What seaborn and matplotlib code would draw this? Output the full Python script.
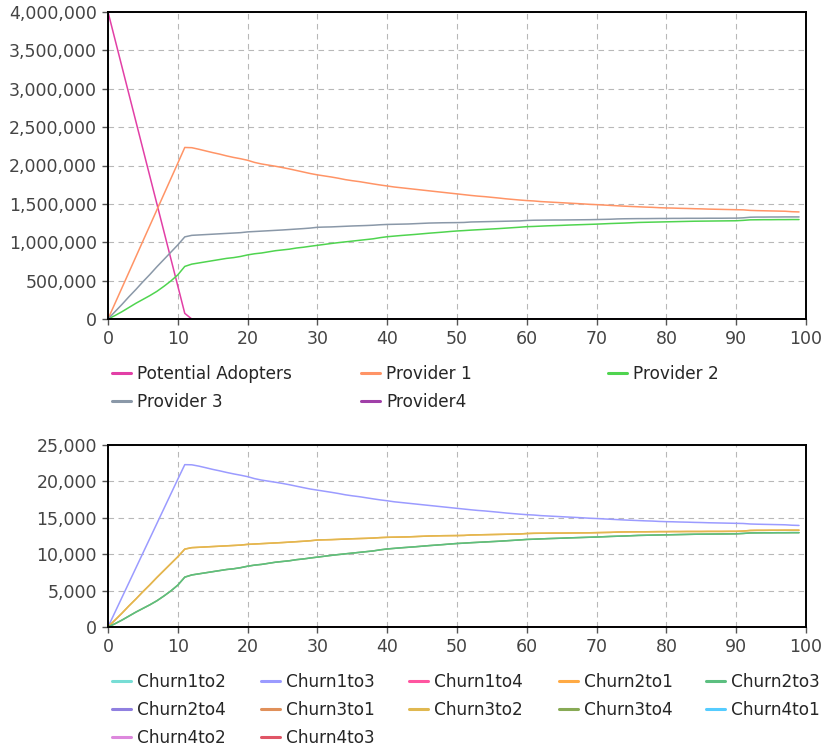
import numpy as np
import pandas as pd
import matplotlib
matplotlib.use("Agg")
import matplotlib.pyplot as plt
import seaborn as sns
from matplotlib.lines import Line2D
from matplotlib.ticker import FuncFormatter, MultipleLocator

sns.set_theme(style="white")
plt.rcParams["font.family"] = ["DejaVu Sans"]

time = list(range(100))
nan = float("nan")

# ---------------- top panel data ----------------
potential_adopters = [4000000, 3643000, 3286000, 2929000, 2572000, 2215000, 1858000, 1501000, 1144000, 787000,
                      430000, 73000, 0] + [nan] * 87

provider1 = [0, 203000, 406000, 609000, 812000, 1015000, 1218000, 1421000, 1624000, 1827000,
             2030000, 2235000, 2232000, 2212000, 2190000, 2168000, 2148000, 2125000, 2105000, 2088000,
             2068000, 2040000, 2020000, 2005000, 1990000, 1973000, 1955000, 1935000, 1915000, 1895000,
             1878000, 1864000, 1850000, 1834000, 1816000, 1802000, 1790000, 1775000, 1760000, 1746000,
             1733000, 1720000, 1710000, 1700000, 1690000, 1680000, 1670000, 1660000, 1650000, 1640000,
             1630000, 1620000, 1610000, 1601000, 1594000, 1585000, 1576000, 1566000, 1558000, 1550000,
             1543000, 1538000, 1530000, 1525000, 1520000, 1515000, 1510000, 1505000, 1500000, 1494000,
             1490000, 1485000, 1480000, 1475000, 1470000, 1466000, 1462000, 1458000, 1455000, 1450000,
             1447000, 1445000, 1442000, 1440000, 1437000, 1435000, 1432000, 1430000, 1428000, 1426000,
             1424000, 1422000, 1415000, 1412000, 1410000, 1408000, 1406000, 1404000, 1398000, 1395000]

provider2 = [0, 45000, 95000, 150000, 205000, 255000, 305000, 360000, 425000, 495000,
             575000, 685000, 715000, 730000, 745000, 760000, 775000, 790000, 800000, 815000,
             835000, 850000, 860000, 875000, 890000, 900000, 910000, 925000, 935000, 948000,
             960000, 972000, 984000, 995000, 1005000, 1015000, 1025000, 1035000, 1045000, 1060000,
             1072000, 1080000, 1088000, 1095000, 1102000, 1110000, 1118000, 1125000, 1132000, 1140000,
             1147000, 1152000, 1158000, 1163000, 1168000, 1173000, 1178000, 1184000, 1190000, 1196000,
             1203000, 1206000, 1210000, 1214000, 1217000, 1220000, 1224000, 1227000, 1230000, 1233000,
             1236000, 1240000, 1244000, 1247000, 1250000, 1254000, 1258000, 1260000, 1262000, 1264000,
             1266000, 1268000, 1270000, 1272000, 1274000, 1275000, 1276000, 1277000, 1278000, 1279000,
             1280000, 1285000, 1292000, 1293000, 1294000, 1294000, 1295000, 1295000, 1296000, 1296000]

provider3 = [0, 95000, 190000, 290000, 385000, 485000, 580000, 680000, 775000, 870000,
             965000, 1070000, 1090000, 1095000, 1100000, 1105000, 1110000, 1115000, 1120000, 1125000,
             1135000, 1140000, 1145000, 1150000, 1155000, 1160000, 1166000, 1172000, 1178000, 1185000,
             1195000, 1198000, 1200000, 1204000, 1208000, 1212000, 1215000, 1218000, 1222000, 1228000,
             1232000, 1234000, 1236000, 1238000, 1242000, 1246000, 1250000, 1252000, 1254000, 1255000,
             1256000, 1258000, 1264000, 1266000, 1268000, 1270000, 1272000, 1274000, 1276000, 1278000,
             1284000, 1287000, 1288000, 1289000, 1290000, 1290000, 1291000, 1292000, 1293000, 1294000,
             1296000, 1298000, 1300000, 1304000, 1306000, 1307000, 1308000, 1308000, 1309000, 1310000,
             1310000, 1311000, 1311000, 1312000, 1312000, 1312000, 1313000, 1313000, 1313000, 1314000,
             1314000, 1318000, 1326000, 1328000, 1328000, 1329000, 1329000, 1330000, 1330000, 1330000]

provider4 = [0] * 100

top_names = ["Potential Adopters", "Provider 1", "Provider 2", "Provider 3", "Provider4"]
top_values = [potential_adopters, provider1, provider2, provider3, provider4]
top_colors = ["#e23fa6", "#ff9466", "#4fd44f", "#8a98a8", "#a040a8"]

# ---------------- bottom panel data ----------------
churn1to3 = [0, 2030, 4060, 6090, 8120, 10150, 12180, 14210, 16240, 18270,
             20300, 22300, 22280, 22100, 21880, 21650, 21450, 21230, 21030, 20850,
             20650, 20380, 20180, 20030, 19880, 19720, 19540, 19340, 19140, 18950,
             18800, 18650, 18500, 18340, 18160, 18020, 17900, 17750, 17600, 17460,
             17340, 17200, 17100, 17000, 16900, 16800, 16700, 16600, 16500, 16400,
             16300, 16200, 16100, 16010, 15940, 15850, 15760, 15660, 15580, 15500,
             15430, 15380, 15300, 15250, 15200, 15150, 15100, 15050, 15000, 14940,
             14900, 14850, 14800, 14750, 14700, 14660, 14620, 14580, 14550, 14500,
             14470, 14450, 14420, 14400, 14370, 14350, 14320, 14300, 14280, 14260,
             14240, 14220, 14150, 14120, 14100, 14080, 14060, 14040, 13980, 13950]

churn2to1 = [0, 950, 1900, 2900, 3850, 4850, 5800, 6800, 7750, 8700,
             9650, 10700, 10900, 10950, 11000, 11050, 11100, 11150, 11200, 11250,
             11350, 11400, 11450, 11500, 11550, 11600, 11660, 11720, 11780, 11850,
             11950, 11980, 12000, 12040, 12080, 12120, 12150, 12180, 12220, 12280,
             12320, 12340, 12360, 12380, 12420, 12460, 12500, 12520, 12540, 12550,
             12560, 12580, 12640, 12660, 12680, 12700, 12720, 12740, 12760, 12780,
             12840, 12870, 12880, 12890, 12900, 12900, 12910, 12920, 12930, 12940,
             12960, 12980, 13000, 13040, 13060, 13070, 13080, 13080, 13090, 13100,
             13100, 13110, 13110, 13120, 13120, 13120, 13130, 13130, 13130, 13140,
             13140, 13180, 13260, 13280, 13280, 13290, 13290, 13300, 13300, 13300]

churn3to2 = list(churn2to1)

churn2to3 = [0, 450, 950, 1500, 2050, 2550, 3050, 3600, 4250, 4950,
             5750, 6850, 7150, 7300, 7450, 7600, 7750, 7900, 8000, 8150,
             8350, 8500, 8600, 8750, 8900, 9000, 9100, 9250, 9350, 9480,
             9600, 9720, 9840, 9950, 10050, 10150, 10250, 10350, 10450, 10600,
             10720, 10800, 10880, 10950, 11020, 11100, 11180, 11250, 11320, 11400,
             11470, 11520, 11580, 11630, 11680, 11730, 11780, 11840, 11900, 11960,
             12030, 12060, 12100, 12140, 12170, 12200, 12240, 12270, 12300, 12330,
             12360, 12400, 12440, 12470, 12500, 12540, 12580, 12600, 12620, 12640,
             12660, 12680, 12700, 12720, 12740, 12750, 12760, 12770, 12780, 12790,
             12800, 12850, 12920, 12930, 12940, 12940, 12950, 12950, 12960, 12960]

churn3to4 = list(churn2to3)
zero_churn = [0] * 100

bottom_names = ["Churn1to2", "Churn1to3", "Churn1to4", "Churn2to1", "Churn2to3",
                "Churn2to4", "Churn3to1", "Churn3to2", "Churn3to4", "Churn4to1",
                "Churn4to2", "Churn4to3"]
bottom_values = [zero_churn, churn1to3, zero_churn, churn2to1, churn2to3,
                 zero_churn, zero_churn, churn3to2, churn3to4, zero_churn,
                 zero_churn, zero_churn]
bottom_colors = ["#77ddd5", "#9b9bff", "#ff55a0", "#ffaa44", "#5cbf80",
                 "#9080e0", "#e0905a", "#e0b850", "#88aa55", "#55ccff",
                 "#dd88dd", "#e05566"]
# drawing order (legend order is kept separately)
bottom_draw_order = ["Churn1to2", "Churn1to4", "Churn2to4", "Churn3to1", "Churn4to1",
                     "Churn4to2", "Churn4to3", "Churn1to3", "Churn2to1", "Churn3to2",
                     "Churn3to4", "Churn2to3"]


def long_df(names, values):
    frames = []
    for n, v in zip(names, values):
        frames.append(pd.DataFrame({"time": time, "value": v, "series": n}))
    return pd.concat(frames, ignore_index=True)


W, H = 827, 748
fig = plt.figure(figsize=(W / 100, H / 100), dpi=100)
ax1 = fig.add_axes([108 / W, 1 - 319 / H, 698 / W, 307 / H])
ax2 = fig.add_axes([108 / W, 1 - 627 / H, 698 / W, 182 / H])

fmt = FuncFormatter(lambda v, p: f"{int(round(v)):,}")


def style(ax, ymax, ystep):
    ax.set_xlim(0, 100)
    ax.set_ylim(0, ymax)
    ax.xaxis.set_major_locator(MultipleLocator(10))
    ax.yaxis.set_major_locator(MultipleLocator(ystep))
    ax.yaxis.set_major_formatter(fmt)
    ax.grid(True, color="#b8b8b8", linewidth=0.8, linestyle=(0, (5, 4)))
    ax.set_axisbelow(True)
    for s in ax.spines.values():
        s.set_color("black")
        s.set_linewidth(1.4)
        s.set_visible(True)
    ax.tick_params(axis="both", which="major", direction="out", length=4, width=1,
                   color="#555555", labelsize=12.5, labelcolor="#444444", pad=4,
                   bottom=True, left=True)
    ax.set_xlabel("")
    ax.set_ylabel("")


df_top = long_df(top_names, top_values)
sns.lineplot(data=df_top, x="time", y="value", hue="series", hue_order=top_names,
             palette=top_colors, linewidth=1.1, legend=False, ax=ax1, estimator=None)
style(ax1, 4000000, 500000)

df_bot = long_df(bottom_names, bottom_values)
bot_palette = dict(zip(bottom_names, bottom_colors))
sns.lineplot(data=df_bot, x="time", y="value", hue="series", hue_order=bottom_draw_order,
             palette=bot_palette, linewidth=1.1, legend=False, ax=ax2, estimator=None)
style(ax2, 25000, 5000)


def column_legends(names, colors, ncol, xs, ytop):
    for c in range(ncol):
        idx = list(range(c, len(names), ncol))
        handles = [Line2D([], [], color=colors[i], lw=2.2) for i in idx]
        labels = [names[i] for i in idx]
        fig.legend(handles, labels, loc="upper left",
                   bbox_to_anchor=(xs[c] / W, 1 - ytop / H), bbox_transform=fig.transFigure,
                   frameon=False, borderpad=0, borderaxespad=0, handlelength=1.1,
                   handletextpad=0.4, labelspacing=0.6, fontsize=12.2)


column_legends(top_names, top_colors, 3, [112, 361, 608], 365)
column_legends(bottom_names, bottom_colors, 5, [112, 261, 409, 559, 706], 673)

fig.savefig("out.png", dpi=100)
